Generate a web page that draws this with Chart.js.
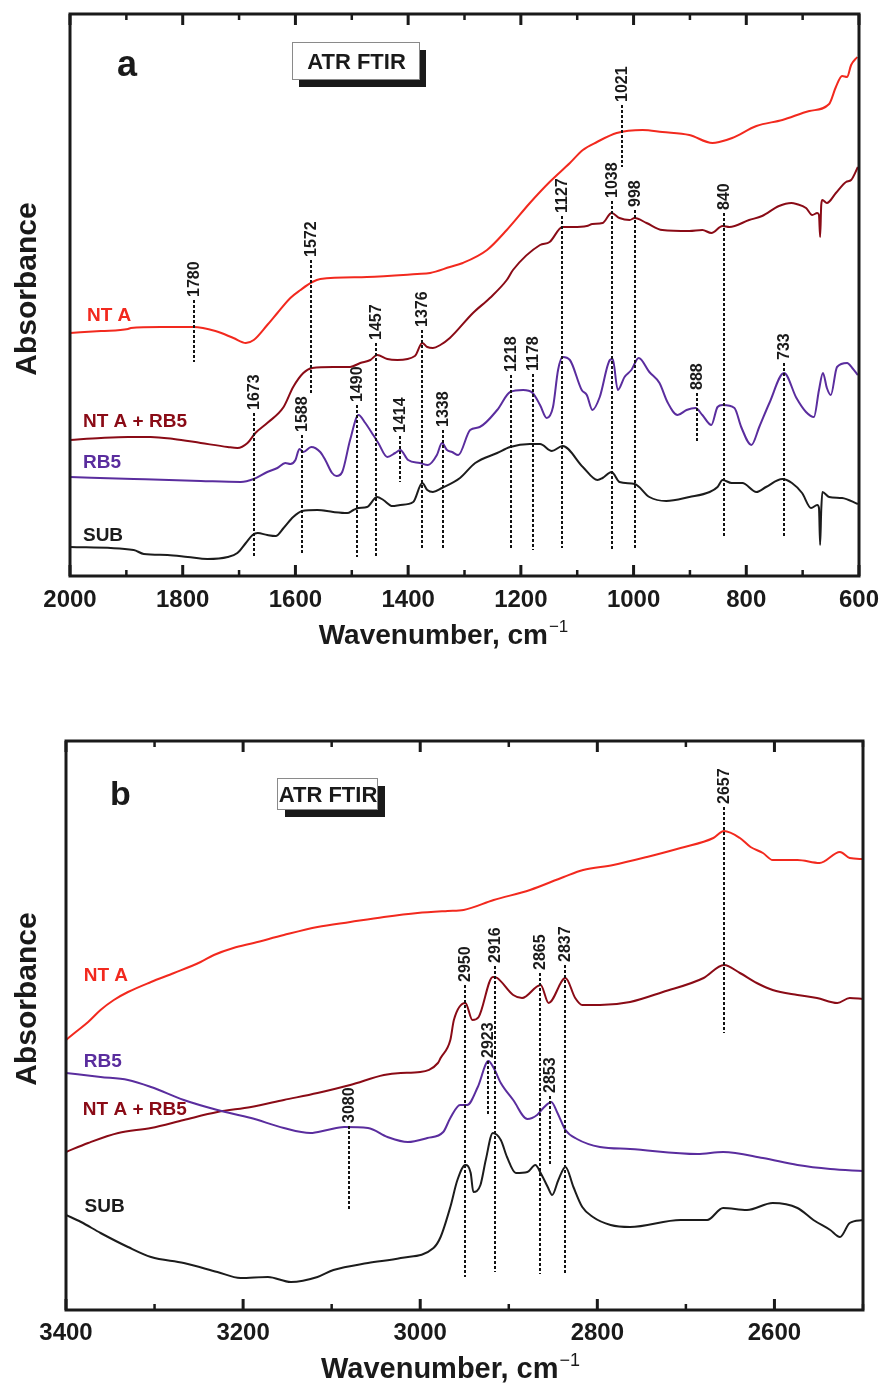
<!DOCTYPE html>
<html><head><meta charset="utf-8">
<script src="https://cdn.jsdelivr.net/npm/chart.js@4"></script>
<style>
html,body{margin:0;padding:0;background:#fff;}
#wrapA{position:absolute;left:0;top:0;width:881px;height:690px;}
#wrapB{position:absolute;left:0;top:690px;width:881px;height:693px;}
canvas{display:block;}
</style></head><body>
<div id="wrapA"><canvas id="ca" width="881" height="690"></canvas></div>
<div id="wrapB"><canvas id="cb" width="881" height="693"></canvas></div>
<script>
// ---------- Panel a (2000-600 cm-1) ----------
const seriesNames = ['NT A', 'NT A + RB5', 'RB5', 'SUB'];

const wnA_ntA = [2000,1945,1897,1892,1839,1781,1742,1710,1688,1674,1650,1632,1609,1591,1570,1556,1473,1384,1361,1326,1303,1260,1225,1184,1149,1113,1090,1065,1030,984,949,901,860,848,825,782,736,688,653,641,630,621,614,603];
const absA_ntA = [2.43,2.45,2.47,2.48,2.49,2.49,2.45,2.38,2.33,2.36,2.51,2.63,2.78,2.86,2.94,2.97,2.99,3.02,3.03,3.09,3.13,3.26,3.46,3.73,3.94,4.13,4.26,4.34,4.43,4.46,4.44,4.41,4.33,4.34,4.38,4.50,4.56,4.65,4.72,4.89,5.00,4.99,5.11,5.19];

const wnA_ntaRb5 = [2000,1945,1897,1857,1816,1768,1720,1703,1685,1671,1650,1621,1604,1586,1570,1533,1503,1485,1467,1455,1437,1419,1388,1375,1366,1356,1343,1326,1285,1255,1225,1214,1166,1149,1126,1108,1083,1073,1055,1039,1025,1007,998,977,949,901,878,862,842,830,795,772,742,720,711,694,683,674,671,669,667,665,657,641,623,614,602];
const absA_ntaRb5 = [1.36,1.38,1.39,1.39,1.37,1.33,1.29,1.28,1.33,1.43,1.53,1.69,1.89,2.03,2.08,2.09,2.09,2.13,2.16,2.21,2.17,2.16,2.20,2.33,2.29,2.28,2.31,2.38,2.63,2.78,2.96,3.06,3.31,3.34,3.49,3.49,3.50,3.52,3.53,3.63,3.58,3.56,3.58,3.53,3.46,3.45,3.46,3.43,3.50,3.49,3.56,3.60,3.70,3.73,3.72,3.68,3.61,3.63,3.61,3.39,3.71,3.76,3.73,3.83,3.94,3.96,4.09];

const wnA_rb5 = [2000,1887,1768,1697,1674,1650,1632,1618,1609,1600,1593,1586,1572,1556,1547,1535,1527,1517,1503,1488,1476,1462,1453,1437,1423,1414,1400,1379,1365,1349,1340,1331,1322,1311,1290,1273,1242,1219,1196,1179,1166,1154,1143,1134,1126,1113,1092,1083,1073,1060,1042,1037,1028,1016,1004,991,972,954,940,922,906,890,878,862,851,842,821,809,791,777,759,733,711,694,680,671,664,657,650,639,621,612,602];
const absA_rb5 = [0.99,0.97,0.95,0.94,0.97,1.04,1.08,1.13,1.12,1.16,1.27,1.24,1.29,1.24,1.16,1.03,1.00,1.04,1.36,1.61,1.53,1.41,1.33,1.19,1.23,1.26,1.16,1.13,1.11,1.21,1.33,1.26,1.24,1.21,1.46,1.49,1.66,1.84,1.86,1.83,1.71,1.58,1.69,2.06,2.19,2.16,1.86,1.81,1.66,1.79,2.16,2.17,1.86,1.99,2.06,2.18,2.04,1.93,1.74,1.61,1.66,1.68,1.61,1.51,1.69,1.71,1.68,1.49,1.31,1.49,1.73,2.03,1.78,1.64,1.59,1.86,2.03,1.88,1.81,2.09,2.13,2.08,2.01];

const wnA_sub = [2000,1887,1869,1827,1791,1756,1720,1703,1688,1676,1667,1650,1635,1621,1604,1588,1561,1533,1508,1497,1488,1473,1455,1444,1428,1414,1391,1375,1366,1356,1340,1308,1281,1242,1219,1184,1166,1145,1126,1090,1064,1055,1039,1025,998,972,942,901,865,851,842,826,807,782,765,736,719,701,685,674,671,669,667,665,653,630,602];
const absA_sub = [0.29,0.26,0.22,0.21,0.19,0.17,0.19,0.23,0.33,0.41,0.43,0.41,0.40,0.48,0.59,0.65,0.66,0.64,0.63,0.66,0.68,0.69,0.79,0.76,0.70,0.71,0.74,0.93,0.86,0.84,0.88,0.98,1.13,1.23,1.29,1.32,1.32,1.25,1.30,1.09,0.96,0.98,1.04,0.94,0.92,0.79,0.75,0.79,0.84,0.89,0.96,0.93,0.93,0.84,0.89,0.97,0.93,0.83,0.68,0.71,0.68,0.31,0.66,0.84,0.79,0.78,0.72];

const peaksA    = [1780,1572,1673,1588,1490,1457,1414,1376,1338,1218,1178,1127,1038,998,1021,840,888,733];
const peakTopA  = [2.76,3.16,1.63,1.41,1.71,2.33,1.40,2.46,1.46,2.01,2.02,3.60,3.75,3.66,4.71,3.63,1.83,2.13];
const peakBotA  = [2.14,1.83,0.19,0.23,0.19,0.18,0.94,0.28,0.26,0.26,0.26,0.28,0.27,0.27,4.09,0.39,1.33,0.39];
const ticksA = [2000,1800,1600,1400,1200,1000,800,600];

// ---------- Panel b (3400-2500 cm-1) ----------
const wnB_ntA = [3400,3389,3375,3361,3346,3330,3304,3278,3248,3233,3211,3188,3154,3116,3079,3041,3003,2969,2951,2917,2876,2838,2816,2782,2744,2706,2669,2657,2639,2627,2613,2602,2574,2549,2526,2515,2500];
const absB_ntA = [2.70,2.78,2.88,3.00,3.10,3.18,3.28,3.37,3.48,3.55,3.62,3.67,3.75,3.83,3.88,3.93,3.97,3.99,4.00,4.10,4.20,4.33,4.40,4.45,4.53,4.62,4.72,4.79,4.72,4.63,4.57,4.50,4.50,4.47,4.58,4.52,4.51];

const wnB_ntaRb5 = [3400,3375,3341,3304,3267,3229,3191,3154,3116,3079,3041,3022,3000,2980,2977,2966,2962,2949,2941,2934,2918,2913,2895,2885,2864,2855,2836,2825,2817,2797,2763,2726,2680,2657,2639,2620,2602,2574,2552,2529,2515,2500];
const absB_ntaRb5 = [1.58,1.67,1.77,1.82,1.90,1.98,2.03,2.10,2.17,2.25,2.35,2.37,2.38,2.47,2.52,2.70,2.90,3.07,2.90,2.93,3.33,3.32,3.15,3.12,3.25,3.07,3.32,3.12,3.05,3.05,3.08,3.18,3.32,3.45,3.37,3.27,3.20,3.15,3.12,3.07,3.12,3.11];

const wnB_rb5 = [3400,3361,3330,3304,3267,3229,3191,3154,3124,3105,3086,3059,3037,3014,2992,2974,2966,2955,2947,2935,2923,2917,2909,2895,2879,2868,2861,2852,2845,2836,2823,2797,2763,2687,2658,2613,2574,2537,2500];
const absB_rb5 = [2.37,2.33,2.30,2.23,2.10,2.00,1.92,1.82,1.77,1.80,1.83,1.82,1.73,1.68,1.72,1.78,1.92,2.05,2.05,2.23,2.49,2.42,2.27,2.10,1.91,1.95,2.02,2.08,1.97,1.80,1.71,1.63,1.61,1.56,1.58,1.52,1.45,1.41,1.39];

const wnB_sub = [3400,3383,3361,3330,3304,3267,3229,3203,3172,3146,3116,3098,3059,3022,2985,2977,2966,2958,2949,2943,2940,2932,2926,2918,2909,2902,2892,2879,2870,2864,2856,2851,2844,2836,2827,2817,2805,2785,2763,2706,2676,2658,2631,2602,2574,2556,2537,2526,2515,2500];
const absB_sub = [0.95,0.88,0.77,0.63,0.53,0.47,0.38,0.32,0.33,0.28,0.33,0.40,0.47,0.52,0.62,0.73,1.03,1.30,1.45,1.37,1.18,1.25,1.50,1.77,1.70,1.53,1.37,1.38,1.45,1.37,1.23,1.15,1.30,1.43,1.23,1.03,0.93,0.85,0.83,0.90,0.90,1.02,1.00,1.07,1.02,0.90,0.80,0.73,0.87,0.90];

const peaksB   = [2950,2916,2865,2837,2657,2923,2853,3080];
const peakTopB = [3.25,3.44,3.37,3.45,5.03,2.49,2.14,1.84];
const peakBotB = [0.33,0.38,0.36,0.35,2.77,1.94,1.45,0.99];
const ticksB = [3400,3200,3000,2800,2600];

// ---------- helpers ----------
const FONT = '"Liberation Sans", Arial, Helvetica, sans-serif';
const COLORS = {'NT A':'#f2291e','NT A + RB5':'#8a0b16','RB5':'#5a2d9e','SUB':'#1c1c1c'};
const zip = (xs, ys) => xs.map((v, i) => ({x: v, y: ys[i]}));
function ds(name, xs, ys) {
  return {label: name, data: zip(xs, ys), borderColor: COLORS[name], borderWidth: 2,
          pointRadius: 0, fill: false, cubicInterpolationMode: 'monotone'};
}

const frameTicks = {
  id: 'frameTicks',
  afterDraw(chart, args, o) {
    const {ctx, chartArea: a} = chart; const x = chart.scales.x;
    ctx.save(); ctx.strokeStyle = '#1a1a1a';
    for (let v = o.min; v <= o.max; v += 100) {
      const px = x.getPixelForValue(v);
      const major = o.majors.includes(v) || v % 200 === 0;
      const len = major ? 11 : 6;
      ctx.lineWidth = major ? 3 : 2.5;
      ctx.beginPath();
      ctx.moveTo(px, a.bottom); ctx.lineTo(px, a.bottom - len);
      ctx.moveTo(px, a.top); ctx.lineTo(px, a.top + len);
      ctx.stroke();
    }
    ctx.lineWidth = 3;
    ctx.strokeRect(a.left, a.top, a.right - a.left, a.bottom - a.top);
    ctx.restore();
  }
};

const peakMarks = {
  id: 'peakMarks',
  afterDatasetsDraw(chart, args, o) {
    const {ctx} = chart; const x = chart.scales.x, y = chart.scales.y;
    ctx.save();
    ctx.strokeStyle = '#111'; ctx.lineWidth = 2; ctx.setLineDash([3, 2]);
    o.wn.forEach((w, i) => {
      const px = Math.round(x.getPixelForValue(w));
      ctx.beginPath();
      ctx.moveTo(px, y.getPixelForValue(o.top[i]));
      ctx.lineTo(px, y.getPixelForValue(o.bot[i]));
      ctx.stroke();
    });
    ctx.setLineDash([]);
    ctx.fillStyle = '#1a1a1a';
    ctx.font = 'bold 16px ' + FONT;
    ctx.textAlign = 'left'; ctx.textBaseline = 'middle';
    o.wn.forEach((w, i) => {
      const px = Math.round(x.getPixelForValue(w));
      ctx.save();
      ctx.translate(px + 1, y.getPixelForValue(o.top[i]) - 3);
      ctx.rotate(-Math.PI / 2);
      ctx.fillText(String(w), 0, 0);
      ctx.restore();
    });
    ctx.restore();
  }
};

const curveLabels = {
  id: 'curveLabels',
  afterDatasetsDraw(chart, args, o) {
    const {ctx} = chart; const x = chart.scales.x, y = chart.scales.y;
    ctx.save();
    ctx.font = 'bold 19px ' + FONT; ctx.textAlign = 'left'; ctx.textBaseline = 'middle';
    o.items.forEach(it => {
      ctx.fillStyle = COLORS[it.name];
      ctx.fillText(it.name, x.getPixelForValue(it.wn), y.getPixelForValue(it.v));
    });
    ctx.restore();
  }
};

const decor = {
  id: 'decor',
  afterDraw(chart, args, o) {
    const {ctx} = chart;
    ctx.save();
    ctx.fillStyle = '#1a1a1a';
    ctx.save();
    ctx.translate(o.yTitle.x, o.yTitle.y); ctx.rotate(-Math.PI / 2);
    ctx.font = 'bold 30px ' + FONT; ctx.textAlign = 'center'; ctx.textBaseline = 'alphabetic';
    ctx.fillText('Absorbance', 0, 0);
    ctx.restore();
    ctx.font = 'bold ' + o.letter.size + 'px ' + FONT; ctx.textAlign = 'left'; ctx.textBaseline = 'alphabetic';
    ctx.fillText(o.letter.t, o.letter.x, o.letter.y);
    const b = o.box;
    ctx.fillStyle = '#1a1a1a';
    ctx.fillRect(b.x + b.dx, b.y + b.dy, b.w, b.h);
    ctx.fillStyle = '#fff';
    ctx.fillRect(b.x, b.y, b.w, b.h);
    ctx.strokeStyle = '#8a8a8a'; ctx.lineWidth = 1;
    ctx.strokeRect(b.x + 0.5, b.y + 0.5, b.w, b.h);
    ctx.fillStyle = '#1a1a1a';
    ctx.font = 'bold 22px ' + FONT; ctx.textAlign = 'center'; ctx.textBaseline = 'middle';
    ctx.fillText('ATR FTIR', b.x + b.w / 2 + 1, b.y + b.h / 2 + 2);
    const t = o.xTitle;
    ctx.textAlign = 'left'; ctx.textBaseline = 'alphabetic';
    ctx.font = 'bold ' + t.size + 'px ' + FONT;
    const mainW = ctx.measureText('Wavenumber, cm').width;
    ctx.font = t.supSize + 'px ' + FONT;
    const supW = ctx.measureText('\u22121').width;
    const x0 = t.cx - (mainW + supW) / 2;
    ctx.font = 'bold ' + t.size + 'px ' + FONT;
    ctx.fillText('Wavenumber, cm', x0, t.base);
    ctx.font = t.supSize + 'px ' + FONT;
    ctx.fillText('\u22121', x0 + mainW + 1, t.base - t.supRise);
    ctx.restore();
  }
};

function xScale(min, max, pad, h, ticksList) {
  return {
    type: 'linear', reverse: true, min: min, max: max,
    ticks: {stepSize: 200, padding: pad, includeBounds: false, autoSkip: false, maxRotation: 0,
            color: '#1a1a1a', font: {family: FONT, size: 24, weight: 'bold'},
            callback: (v) => ticksList.includes(v) ? String(v) : ''},
    grid: {display: false, drawTicks: false},
    border: {display: false},
    afterFit: (s) => { s.height = h; s.paddingLeft = 0; s.paddingRight = 0; }
  };
}

new Chart(document.getElementById('ca'), {
  type: 'line',
  data: {datasets: [
    ds('SUB', wnA_sub, absA_sub),
    ds('RB5', wnA_rb5, absA_rb5),
    ds('NT A + RB5', wnA_ntaRb5, absA_ntaRb5),
    ds('NT A', wnA_ntA, absA_ntA)
  ]},
  options: {
    responsive: false, animation: false, devicePixelRatio: 1,
    layout: {padding: {left: 70, right: 22, top: 14, bottom: 34}},
    scales: {
      x: xScale(600, 2000, 10, 80, ticksA),
      y: {display: false, min: 0, max: 5.62}
    },
    plugins: {
      legend: {display: false}, tooltip: {enabled: false},
      frameTicks: {min: 600, max: 2000, majors: ticksA},
      peakMarks: {wn: peaksA, top: peakTopA, bot: peakBotA},
      curveLabels: {items: [
        {name: 'NT A', wn: 1970, v: 2.60},
        {name: 'NT A + RB5', wn: 1977, v: 1.54},
        {name: 'RB5', wn: 1977, v: 1.13},
        {name: 'SUB', wn: 1977, v: 0.40}
      ]},
      decor: {
        yTitle: {x: 36, y: 289},
        letter: {t: 'a', x: 117, y: 76, size: 36},
        box: {x: 292, y: 42, w: 127, h: 37, dx: 7, dy: 8},
        xTitle: {cx: 443, base: 644, size: 28, supSize: 17, supRise: 12}
      }
    }
  },
  plugins: [frameTicks, peakMarks, curveLabels, decor]
});

new Chart(document.getElementById('cb'), {
  type: 'line',
  data: {datasets: [
    ds('SUB', wnB_sub, absB_sub),
    ds('RB5', wnB_rb5, absB_rb5),
    ds('NT A + RB5', wnB_ntaRb5, absB_ntaRb5),
    ds('NT A', wnB_ntA, absB_ntA)
  ]},
  options: {
    responsive: false, animation: false, devicePixelRatio: 1,
    layout: {padding: {left: 66, right: 18, top: 51, bottom: 3}},
    scales: {
      x: xScale(2500, 3400, 9, 70, ticksB),
      y: {display: false, min: 0, max: 5.69}
    },
    plugins: {
      legend: {display: false}, tooltip: {enabled: false},
      frameTicks: {min: 2500, max: 3400, majors: ticksB},
      peakMarks: {wn: peaksB, top: peakTopB, bot: peakBotB},
      curveLabels: {items: [
        {name: 'NT A', wn: 3380, v: 3.34},
        {name: 'RB5', wn: 3380, v: 2.48},
        {name: 'NT A + RB5', wn: 3381, v: 2.00},
        {name: 'SUB', wn: 3379, v: 1.03}
      ]},
      decor: {
        yTitle: {x: 36, y: 309},
        letter: {t: 'b', x: 110, y: 115, size: 34},
        box: {x: 277, y: 88, w: 100, h: 31, dx: 8, dy: 8},
        xTitle: {cx: 450, base: 688, size: 29, supSize: 18, supRise: 12}
      }
    }
  },
  plugins: [frameTicks, peakMarks, curveLabels, decor]
});
</script>
</body></html>
